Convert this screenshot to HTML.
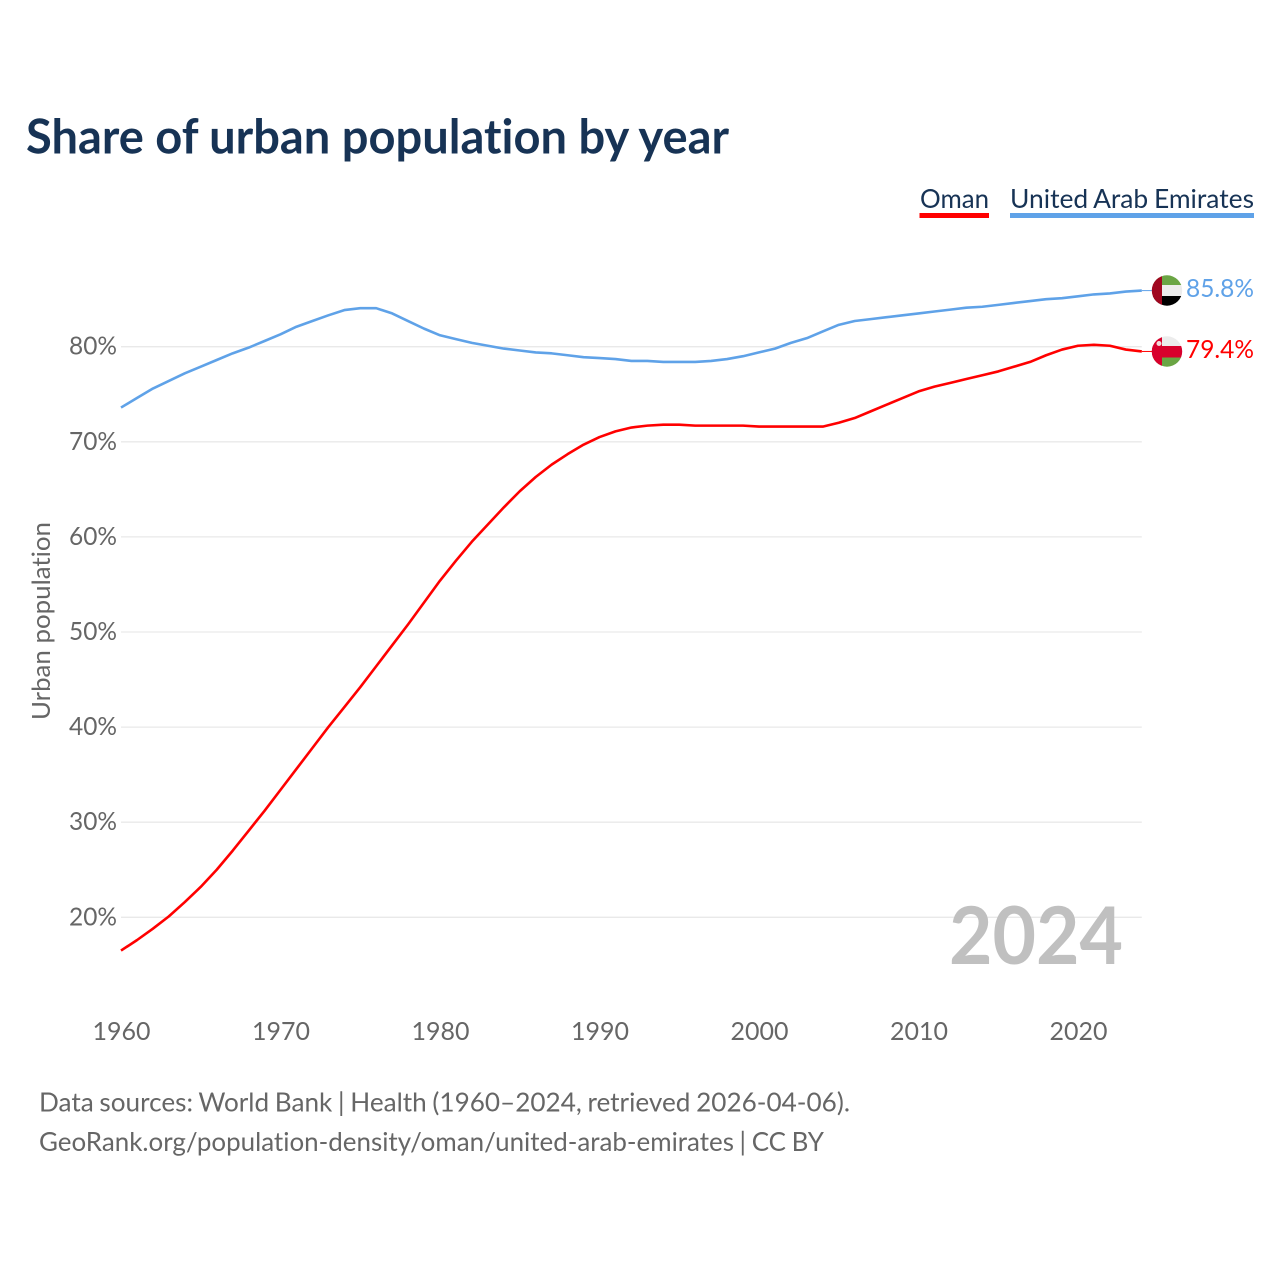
<!DOCTYPE html>
<html lang="en">
<head>
<meta charset="utf-8">
<title>Share of urban population by year</title>
<style>
html,body{margin:0;padding:0;background:#fff}
svg{display:block;font-family:"Lato","Carlito","Liberation Sans",sans-serif;font-variant-ligatures:none;font-feature-settings:"liga" 0,"clig" 0}
</style>
</head>
<body>
<svg id="chart" xmlns="http://www.w3.org/2000/svg" width="1280" height="1280" viewBox="0 0 1280 1280">
  <defs>
    <clipPath id="clip-uae"><circle cx="1167" cy="290.5" r="15.2"/></clipPath>
    <clipPath id="clip-oman"><circle cx="1167" cy="351.5" r="15.2"/></clipPath>
  </defs>
  <rect width="1280" height="1280" fill="#fff"/>
  <text x="26" y="153.500" font-size="48" font-weight="700" fill="#173355" textLength="703" lengthAdjust="spacingAndGlyphs">Share of urban population by year</text>

  <g>
    <g>
      <text x="920" y="208" font-size="26" fill="#173355" textLength="69" lengthAdjust="spacingAndGlyphs">Oman</text>
      <rect x="919.5" y="213" width="69.5" height="5" fill="#ff0000"/>
    </g>
    <g>
      <text x="1010" y="208" font-size="26" fill="#173355" word-spacing="-1" textLength="244" lengthAdjust="spacingAndGlyphs">United Arab Emirates</text>
      <rect x="1010" y="213" width="244" height="5" fill="#5fa2e8"/>
    </g>
  </g>

  <g id="grid"></g>
  <g id="y-ticks"></g>
  <g id="x-ticks"></g>

  <text transform="translate(50 621) rotate(-90)" text-anchor="middle" font-size="25" fill="#666" textLength="198" lengthAdjust="spacingAndGlyphs">Urban population</text>

  <text x="949" y="964" font-size="80" font-weight="700" fill="#c0c0c0" textLength="174" lengthAdjust="spacingAndGlyphs">2024</text>

  <g id="series"></g>

  <g clip-path="url(#clip-uae)">
    <rect x="1150" y="274" width="34" height="11" fill="#6aa544"/>
    <rect x="1150" y="285" width="34" height="11" fill="#ececec"/>
    <rect x="1150" y="296" width="34" height="11" fill="#000"/>
    <rect x="1150" y="274" width="12" height="33" fill="#a0071f"/>
  </g>
  <g clip-path="url(#clip-oman)">
    <rect x="1150" y="335" width="34" height="11" fill="#ececec"/>
    <rect x="1150" y="346" width="34" height="11.500" fill="#d8002c"/>
    <rect x="1150" y="357.500" width="34" height="11" fill="#6aa544"/>
    <rect x="1150" y="335" width="12" height="33" fill="#d8002c"/>
    <circle cx="1159" cy="343.500" r="2.500" fill="#f3dcdc"/>
  </g>

  <text x="1186" y="297" font-size="25" fill="#5fa2e8" textLength="68" lengthAdjust="spacingAndGlyphs">85.8%</text>
  <text x="1186" y="358" font-size="25" fill="#ff0000" textLength="68" lengthAdjust="spacingAndGlyphs">79.4%</text>

  <text x="39" y="1111.500" font-size="26" fill="#666" word-spacing="-1" textLength="811" lengthAdjust="spacingAndGlyphs">Data sources: World Bank | Health (1960–2024, retrieved 2026-04-06).</text>
  <text x="39" y="1151" font-size="26" fill="#666" word-spacing="-1" textLength="785" lengthAdjust="spacingAndGlyphs">GeoRank.org/population-density/oman/united-arab-emirates | CC BY</text>
</svg>
<script>
const years = [1960,1961,1962,1963,1964,1965,1966,1967,1968,1969,1970,1971,1972,1973,1974,1975,1976,1977,1978,1979,1980,1981,1982,1983,1984,1985,1986,1987,1988,1989,1990,1991,1992,1993,1994,1995,1996,1997,1998,1999,2000,2001,2002,2003,2004,2005,2006,2007,2008,2009,2010,2011,2012,2013,2014,2015,2016,2017,2018,2019,2020,2021,2022,2023,2024];
const omanValues = [16.5,17.6,18.8,20.1,21.6,23.2,25.0,27.0,29.1,31.2,33.4,35.6,37.8,40.0,42.1,44.2,46.4,48.6,50.8,53.1,55.4,57.5,59.5,61.3,63.1,64.8,66.3,67.6,68.7,69.7,70.5,71.1,71.5,71.7,71.8,71.8,71.7,71.7,71.7,71.7,71.6,71.6,71.6,71.6,71.6,72.0,72.5,73.2,73.9,74.6,75.3,75.8,76.2,76.6,77.0,77.4,77.9,78.4,79.1,79.7,80.1,80.2,80.1,79.7,79.5];
const uaeValues = [73.6,74.6,75.6,76.4,77.2,77.9,78.6,79.3,79.9,80.6,81.3,82.1,82.7,83.3,83.85,84.05,84.05,83.5,82.7,81.9,81.2,80.8,80.4,80.1,79.8,79.6,79.4,79.3,79.1,78.9,78.8,78.7,78.5,78.5,78.4,78.4,78.4,78.5,78.7,79.0,79.4,79.8,80.4,80.9,81.6,82.3,82.7,82.9,83.1,83.3,83.5,83.7,83.9,84.1,84.2,84.4,84.6,84.8,85.0,85.1,85.3,85.5,85.6,85.8,85.9];
const yTickValues = [20,30,40,50,60,70,80];
const xTickValues = [1960,1970,1980,1990,2000,2010,2020];

const NS = 'http://www.w3.org/2000/svg';
function xScale(year) { return 121 + (year - 1960) * 15.95; }
function yScale(value) { return 917.3 - (value - 20) * 9.51; }
function make(tag, attrs, parent) {
  const el = document.createElementNS(NS, tag);
  for (const k in attrs) el.setAttribute(k, attrs[k]);
  parent.appendChild(el);
  return el;
}
const xEnd = xScale(years[years.length - 1]);
const gridGroup = document.getElementById('grid');
const yGroup = document.getElementById('y-ticks');
const xGroup = document.getElementById('x-ticks');
const seriesGroup = document.getElementById('series');

yTickValues.forEach(function (v) {
  const line = make('line', {x1: 121, x2: xEnd, y1: yScale(v), y2: yScale(v), stroke: '#e9e9e9', 'stroke-width': 1.3}, gridGroup);
  
  
  const label = make('text', {x: 69, y: yScale(v) + 8, 'font-size': 25, fill: '#666', textLength: 48, lengthAdjust: 'spacingAndGlyphs'}, yGroup);
  label.textContent = v + '%';
  
  
});

xTickValues.forEach(function (t) {
  const label = make('text', {x: xScale(t) - 28.5, y: 1040, 'font-size': 25, fill: '#666', textLength: 58, lengthAdjust: 'spacingAndGlyphs'}, xGroup);
  label.textContent = String(t);
  
  
});

function pathFrom(values) {
  return values.map(function (v, i) {
    return (i ? 'L' : 'M') + xScale(years[i]).toFixed(2) + ' ' + yScale(v).toFixed(2);
  }).join(' ');
}

const omanLine = make('path', {d: pathFrom(omanValues), fill: 'none', stroke: '#ff0000', 'stroke-width': 2.6, 'stroke-linejoin': 'round'}, seriesGroup);


const uaeLine = make('path', {d: pathFrom(uaeValues), fill: 'none', stroke: '#5fa2e8', 'stroke-width': 2.6, 'stroke-linejoin': 'round'}, seriesGroup);



const omanLeader = make('line', {x1: xEnd, x2: 1152, y1: yScale(omanValues[omanValues.length - 1]), y2: yScale(omanValues[omanValues.length - 1]), stroke: '#ff0000', 'stroke-width': 1}, seriesGroup);


const uaeLeader = make('line', {x1: xEnd, x2: 1152, y1: yScale(uaeValues[uaeValues.length - 1]), y2: yScale(uaeValues[uaeValues.length - 1]), stroke: '#5fa2e8', 'stroke-width': 1}, seriesGroup);


</script>
</body>
</html>
